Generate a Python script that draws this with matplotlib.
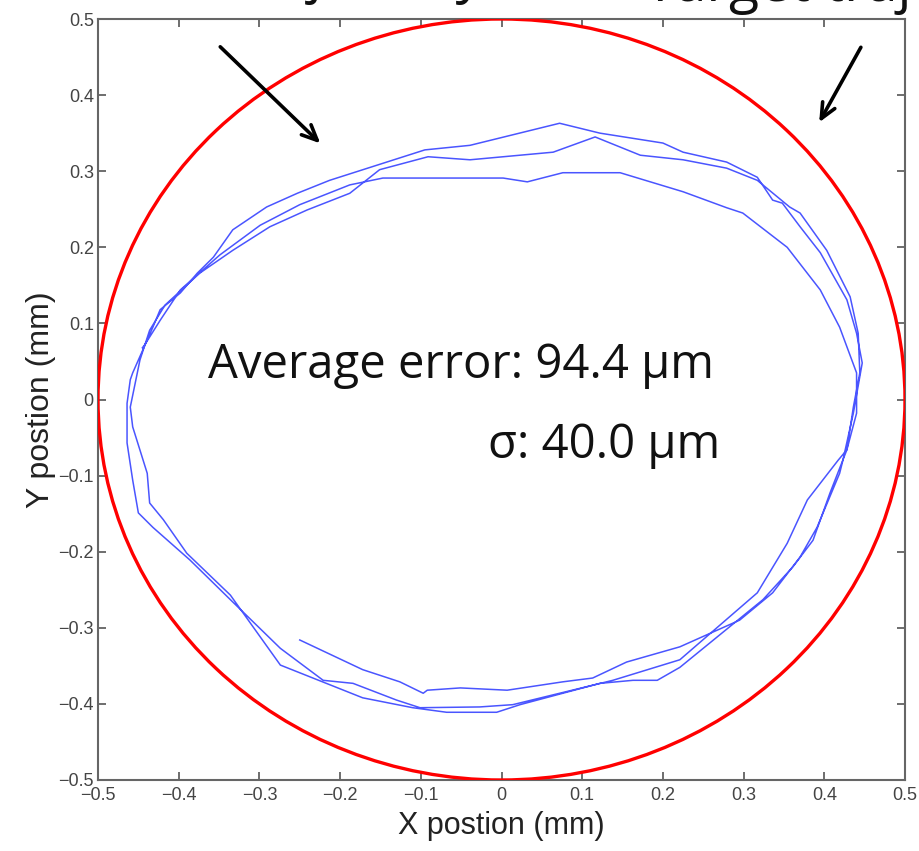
import matplotlib
matplotlib.use("Agg")
import matplotlib.pyplot as plt
from matplotlib.patches import Circle

x_lap1 = [-0.250, -0.172, -0.126, -0.097, -0.092, -0.051, 0.007, 0.076, 0.113, 0.155, 0.221,
          0.295, 0.336, 0.370, 0.391, 0.419, 0.423, 0.436, 0.447, 0.440, 0.428, 0.395, 0.370,
          0.348, 0.336, 0.317, 0.279, 0.225, 0.200, 0.122, 0.072, -0.039, -0.095, -0.213,
          -0.253, -0.291, -0.333, -0.357, -0.377, -0.398, -0.423, -0.432, -0.457, -0.460,
          -0.464, -0.464, -0.457, -0.450, -0.432, -0.386, -0.336, -0.274, -0.221, -0.184,
          -0.130, -0.101, -0.027, 0.014, 0.138, 0.221]
y_lap1 = [-0.316, -0.355, -0.371, -0.386, -0.382, -0.379, -0.382, -0.371, -0.366, -0.345, -0.325,
          -0.290, -0.254, -0.207, -0.168, -0.097, -0.080, -0.018, 0.048, 0.087, 0.131, 0.193, 0.227,
          0.258, 0.262, 0.292, 0.312, 0.325, 0.337, 0.350, 0.363, 0.334, 0.328, 0.288,
          0.271, 0.253, 0.223, 0.187, 0.166, 0.140, 0.118, 0.095, 0.035, 0.026,
          -0.005, -0.057, -0.106, -0.149, -0.168, -0.211, -0.263, -0.327, -0.369, -0.373,
          -0.395, -0.405, -0.404, -0.401, -0.369, -0.342]
x_lap2 = [0.317, 0.354, 0.379, 0.417, 0.428, 0.436, 0.444, 0.442, 0.432, 0.403, 0.370, 0.357,
          0.317, 0.279, 0.225, 0.172, 0.116, 0.064, -0.039, -0.091, -0.151, -0.188, -0.241,
          -0.287, -0.333, -0.374, -0.417, -0.436, -0.448, -0.460, -0.457, -0.439, -0.436,
          -0.419, -0.390, -0.336, -0.274, -0.172, -0.110, -0.068, -0.006, 0.023, 0.122,
          0.163, 0.193, 0.221]
y_lap2 = [-0.254, -0.189, -0.132, -0.080, -0.066, -0.010, 0.035, 0.087, 0.135, 0.196, 0.245, 0.253,
          0.288, 0.304, 0.315, 0.321, 0.345, 0.325, 0.315, 0.319, 0.302, 0.271, 0.249,
          0.227, 0.196, 0.166, 0.124, 0.091, 0.052, -0.010, -0.036, -0.097, -0.136,
          -0.158, -0.202, -0.257, -0.349, -0.392, -0.405, -0.411, -0.411, -0.401, -0.373,
          -0.369, -0.369, -0.352]
x_lap3 = [0.324, 0.361, 0.386, 0.407, 0.428, 0.440, 0.440, 0.419, 0.395, 0.354, 0.299, 0.279,
          0.225, 0.147, 0.076, 0.032, 0.002, -0.147, -0.188, -0.250, -0.299, -0.349, -0.398,
          -0.423, -0.442, -0.445]
y_lap3 = [-0.263, -0.220, -0.185, -0.123, -0.066, -0.018, 0.035, 0.095, 0.144, 0.200, 0.245, 0.252,
          0.273, 0.298, 0.298, 0.286, 0.291, 0.291, 0.282, 0.256, 0.229, 0.190, 0.144,
          0.104, 0.072, 0.068]

target_radius = 0.5
ticks = [-0.5, -0.4, -0.3, -0.2, -0.1, 0, 0.1, 0.2, 0.3, 0.4, 0.5]
tick_labels = ["\u22120.5", "\u22120.4", "\u22120.3", "\u22120.2", "\u22120.1", "0",
               "0.1", "0.2", "0.3", "0.4", "0.5"]

tick_font = ["Liberation Sans Narrow", "Liberation Sans", "DejaVu Sans"]
big_font = ["Open Sans", "DejaVu Sans"]

fig = plt.figure(figsize=(9.19, 8.51), dpi=100)
ax = fig.add_axes([98 / 919, 1 - 780 / 851, 807 / 919, 761 / 851])

ax.add_patch(Circle((0, 0), target_radius, fill=False, ec="#ff0000", lw=2.4, zorder=3))

xs = x_lap1 + x_lap2 + x_lap3
ys = y_lap1 + y_lap2 + y_lap3
ax.plot(xs, ys, color="#4a55ff", lw=1.1, zorder=2)

ax.set_xlim(-0.5, 0.5)
ax.set_ylim(-0.5, 0.5)
ax.set_xticks(ticks)
ax.set_yticks(ticks)
ax.set_xticklabels(tick_labels, family=tick_font, fontsize=13, color="#444444")
ax.set_yticklabels(tick_labels, family=tick_font, fontsize=13, color="#444444")
ax.tick_params(direction="in", length=6, width=1.2, color="#555555",
               top=True, right=True, pad=3)
ax.tick_params(axis="x", pad=5)
for s in ax.spines.values():
    s.set_color("#666666")
    s.set_linewidth(1.5)

ax.set_xlabel("X postion (mm)", family=tick_font, fontsize=22, color="#222222", labelpad=5)
ax.set_ylabel("Y postion (mm)", family=tick_font, fontsize=23, color="#222222", labelpad=2)

# hand-drawn arrows
arrow_style = dict(arrowstyle="->,head_length=1.1,head_width=0.5", color="black", lw=2.6)
ax.annotate("", xy=(-0.222, 0.334), xytext=(-0.351, 0.466),
            arrowprops=arrow_style, annotation_clip=False)
ax.annotate("", xy=(0.392, 0.361), xytext=(0.447, 0.466),
            arrowprops=arrow_style, annotation_clip=False)

ax.text(-0.364, 0.045, "Average error: 94.4 \u03bcm", family=big_font, fontsize=34,
        ha="left", va="center", color="#111111")
ax.text(0.271, -0.060, "\u03c3: 40.0 \u03bcm", family=big_font, fontsize=34,
        ha="right", va="center", color="#111111")

# title cut off at the top of the picture
fig.text(235 / 919, 1 + 9 / 851, "trajectory vs.", family=big_font, fontsize=40,
         ha="left", va="baseline", color="#111111")
fig.text(645 / 919, 1 - 1 / 851, "Target trajectory", family=big_font, fontsize=40,
         ha="left", va="baseline", color="#111111")

fig.savefig("out.png", dpi=100)
